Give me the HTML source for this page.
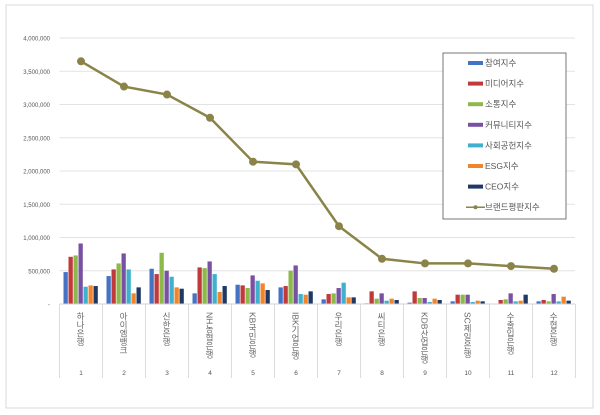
<!DOCTYPE html>
<html><head><meta charset="utf-8"><style>
body{margin:0;background:#fff;}
svg{display:block;font-family:"Liberation Sans","Noto Sans CJK KR",sans-serif;}
.v{writing-mode:vertical-rl;text-orientation:mixed;}
</style></head><body>
<svg id="c" width="600" height="415" viewBox="0 0 600 415" xmlns="http://www.w3.org/2000/svg">
<rect x="0" y="0" width="600" height="415" fill="#fff"/>
<rect x="6" y="5" width="587" height="403" fill="#fff" stroke="#d9d9d9" stroke-width="1"/>
<g id="g"></g>
</svg>
<script>
var ns="http://www.w3.org/2000/svg",g=document.getElementById("g");
function el(t,a,txt){var e=document.createElementNS(ns,t);for(var k in a)e.setAttribute(k,a[k]);if(txt!=null)e.textContent=txt;g.appendChild(e);return e;}
var y0=304,sc=33.25/500,x0=59.5,cw=43;
var labs=["4,000,000","3,500,000","3,000,000","2,500,000","2,000,000","1,500,000","1,000,000","500,000","-"];
for(var i=0;i<9;i++){var y=38+i*33.25;
 if(i<8)el("line",{x1:x0,x2:575,y1:y,y2:y,stroke:"#e3e3e3","stroke-width":1});
 el("text",{x:50,y:y+2.5,"font-size":6,fill:"#555","text-anchor":"end"},labs[i]);}
var cols=["#4472c4","#c0393b","#8db84a","#7951a3","#3fb1cf","#f0852d","#1f3864"];
var d=[[480,710,730,910,260,280,270],[420,520,610,760,520,160,250],[530,450,770,500,410,250,230],[160,550,540,640,450,180,270],[290,280,240,430,350,310,210],[250,270,500,580,150,140,190],[70,150,160,240,320,100,100],[10,190,80,160,50,80,60],[20,190,90,90,30,80,60],[40,140,140,140,30,50,40],[5,60,70,160,40,50,140],[40,60,40,150,40,110,50]];
var ln=[3650,3270,3150,2800,2140,2100,1170,680,610,610,570,530];
var names=["하나은행","아이엠뱅크","신한은행","NH농협은행","KB국민은행","IBK기업은행","우리은행","씨티은행","KDB산업은행","SC제일은행","수출입은행","수협은행"];
for(var c=0;c<12;c++){var cx=x0+c*cw+cw/2;
 for(var s=0;s<7;s++){var h=d[c][s]*sc;el("rect",{x:cx-17.5+s*5,y:y0-h,width:4.3,height:h,fill:cols[s]});}
 el("line",{x1:x0+c*cw,x2:x0+c*cw,y1:y0,y2:378,stroke:"#dcdcdc"});
 el("text",{x:cx-0.5,y:312,"font-size":8.5,fill:"#666","class":"v"},names[c]);
 el("text",{x:cx,y:375,"font-size":6.5,fill:"#555","text-anchor":"middle"},String(c+1));}
el("line",{x1:x0+12*cw,x2:x0+12*cw,y1:y0,y2:378,stroke:"#dcdcdc"});
el("line",{x1:x0,x2:575,y1:y0,y2:y0,stroke:"#d0d0d0"});
var pts=ln.map(function(v,c){return (x0+c*cw+cw/2)+","+(y0-v*sc);}).join(" ");
el("polyline",{points:pts,fill:"none",stroke:"#8a8448","stroke-width":2.5});
ln.forEach(function(v,c){el("circle",{cx:x0+c*cw+cw/2,cy:y0-v*sc,r:4,fill:"#8a8448"});});
el("rect",{x:443,y:53,width:123,height:166,fill:"#fff",stroke:"#555","stroke-width":0.8});
var ln2=["참여지수","미디어지수","소통지수","커뮤니티지수","사회공헌지수","ESG지수","CEO지수","브랜드평판지수"];
for(var i=0;i<8;i++){var y=63+i*20.6;
 if(i<7)el("rect",{x:468,y:y-2,width:15,height:4,fill:cols[i]});
 else{el("line",{x1:466,x2:485,y1:y,y2:y,stroke:"#8a8448","stroke-width":1.5});el("circle",{cx:475.5,cy:y,r:2,fill:"#8a8448"});}
 el("text",{x:485,y:y+3,"font-size":8.5,fill:"#555"},ln2[i]);}
</script>
</body></html>
